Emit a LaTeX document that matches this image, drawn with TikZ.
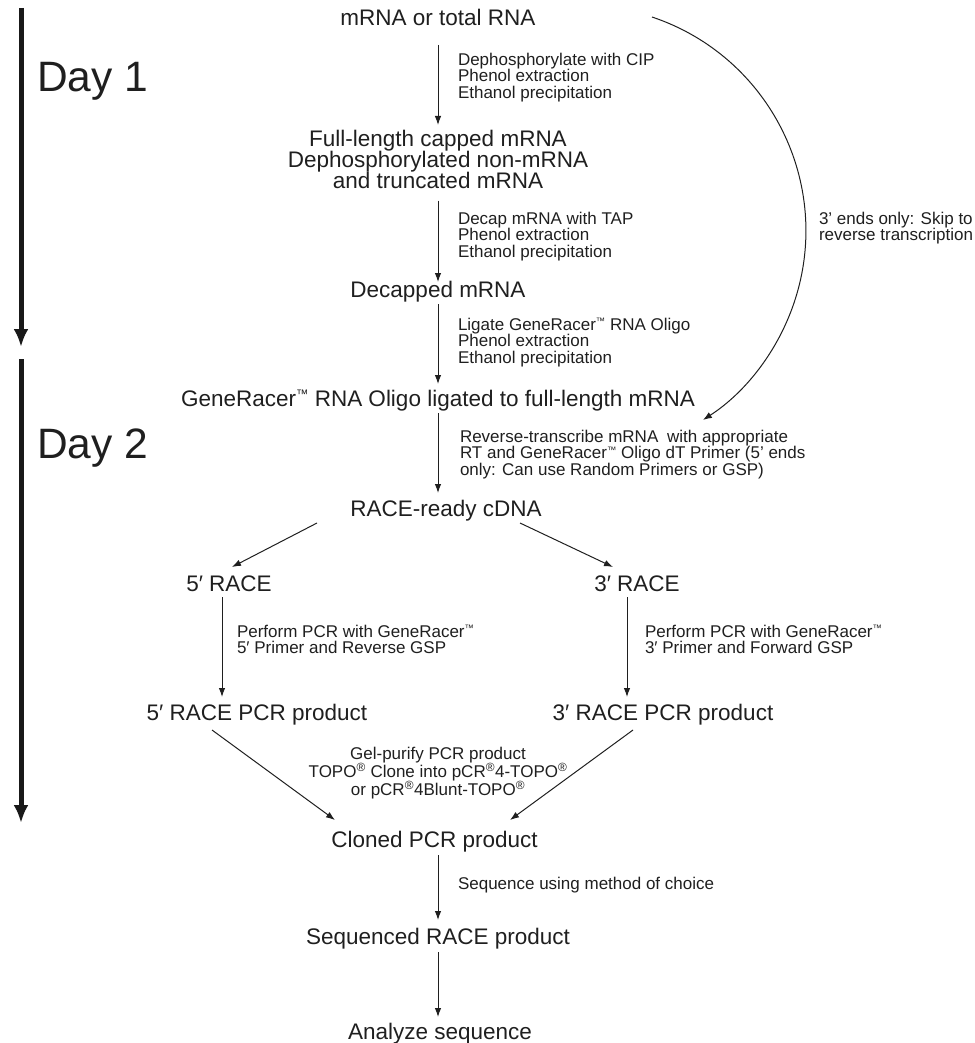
\documentclass[tikz,border=0pt]{standalone}
\usepackage{fontspec}
\setmainfont{Liberation Sans}
\usetikzlibrary{arrows.meta}
\newcommand{\tmark}{\raisebox{0.32em}{\scalebox{0.55}{™}}}
\begin{document}
\begin{tikzpicture}[x=1pt,y=-1pt,
  every node/.style={inner sep=0pt, outer sep=0pt, text=black!88},
  big/.style={font=\fontsize{22.5pt}{21pt}\selectfont, align=center},
  small/.style={font=\fontsize{17pt}{16.5pt}\selectfont, align=left},
  smallc/.style={font=\fontsize{17pt}{18.3pt}\selectfont, align=center},
  day/.style={font=\fontsize{42.5pt}{44pt}\selectfont},
  arr/.style={line width=1pt, draw=black!88, -{Latex[length=9pt,width=6.5pt]}},
  timeline/.style={line width=5pt, draw=black!90, -{Latex[length=18pt,width=15pt]}}]
\useasboundingbox (0,0) rectangle (974,1043);

% timeline
\coordinate (d1s) at (21,8);
\coordinate (d1e) at (21,347);
\coordinate (d2s) at (21,359);
\coordinate (d2e) at (21,823);
\draw[timeline] (d1s) -- (d1e);
\draw[timeline] (d2s) -- (d2e);
\node[day, anchor=base west] (day1) at (37,92) {Day 1};
\node[day, anchor=base west] (day2) at (37,458) {Day 2};

% main nodes
\node[big, anchor=base] (top) at (438,26) {mRNA or total RNA};
\node[big, anchor=north] (full) at (438,130) {Full-length capped mRNA\\Dephosphorylated non-mRNA\\and truncated mRNA};
\node[big, anchor=base] (dec) at (438,297) {Decapped mRNA};
\node[big, anchor=base] (lig) at (438,406) {GeneRacer\tmark\ RNA Oligo ligated to full-length mRNA};
\node[big, anchor=base] (cdna) at (446,516) {RACE-ready cDNA};
\node[big, anchor=base] (r5) at (229,591) {5′ RACE};
\node[big, anchor=base] (r3) at (637,591) {3′ RACE};
\node[big, anchor=base] (p5) at (257,720) {5′ RACE PCR product};
\node[big, anchor=base] (p3) at (663,720) {3′ RACE PCR product};
\node[big, anchor=base] (clo) at (434.5,847) {Cloned PCR product};
\node[big, anchor=base] (seq) at (438,944) {Sequenced RACE product};
\node[big, anchor=base] (ana) at (440,1039) {Analyze sequence};

% step labels
\node[small, anchor=north west] (l1) at (458,52.8) {Dephosphorylate with CIP\\Phenol extraction\\Ethanol precipitation};
\node[small, anchor=north west] (l2) at (458,211.8) {Decap mRNA with TAP\\Phenol extraction\\Ethanol precipitation};
\node[small, anchor=north west] (l3) at (458,317.8) {Ligate GeneRacer\tmark\ RNA Oligo\\Phenol extraction\\Ethanol precipitation};
\node[small, anchor=north west] (l4) at (460,429.8) {Reverse-transcribe mRNA\hspace{4pt} with appropriate\\RT and GeneRacer\tmark\ Oligo dT Primer (5' ends\\only: Can use Random Primers or GSP)};
\node[small, anchor=north west] (lskip) at (819,211.8) {3' ends only: Skip to\\reverse transcription};
\node[small, anchor=north west] (l5) at (237,624.8) {Perform PCR with GeneRacer\tmark\\5′ Primer and Reverse GSP};
\node[small, anchor=north west] (l6) at (645,624.8) {Perform PCR with GeneRacer\tmark\\3′ Primer and Forward GSP};
\node[smallc, anchor=north] (l7) at (438,746.8) {Gel-purify PCR product\\TOPO\textsuperscript{®} Clone into pCR\textsuperscript{®}4-TOPO\textsuperscript{®}\\or pCR\textsuperscript{®}4Blunt-TOPO\textsuperscript{®}};
\node[small, anchor=north west] (l8) at (458,876.8) {Sequence using method of choice};

% connectors
\draw[arr] ([yshift=-19pt]top.base) -- ([yshift=5pt]full.north);
\draw[arr] ([yshift=-12pt]full.south) -- ([yshift=15pt]dec.base);
\draw[arr] ([yshift=-7pt]dec.base) -- ([yshift=22pt]lig.base);
\draw[arr] ([yshift=-7pt]lig.base) -- ([xshift=-8pt,yshift=23pt]cdna.base);
\draw[arr] ([xshift=-129pt,yshift=-7pt]cdna.base) -- ([xshift=3pt,yshift=24pt]r5.base);
\draw[arr] ([xshift=74pt,yshift=-7pt]cdna.base) -- ([xshift=-24pt,yshift=24pt]r3.base);
\draw[arr] ([xshift=-7pt,yshift=-6pt]r5.base) -- ([xshift=-35pt,yshift=23pt]p5.base);
\draw[arr] ([xshift=-10pt,yshift=-6pt]r3.base) -- ([xshift=-36pt,yshift=23pt]p3.base);
\draw[arr] ([xshift=-45pt,yshift=-10pt]p5.base) -- ([xshift=-99.5pt,yshift=27pt]clo.base);
\draw[arr] ([xshift=-30pt,yshift=-10pt]p3.base) -- ([xshift=75.5pt,yshift=27pt]clo.base);
\draw[arr] ([xshift=3.5pt,yshift=-8pt]clo.base) -- ([yshift=24pt]seq.base);
\draw[arr] ([yshift=-8pt]seq.base) -- ([xshift=-2pt,yshift=22pt]ana.base);

% skip curve
\coordinate (skipA) at (652,17);
\draw[arr] (skipA) arc[start angle=-71.5, end angle=57.1, radius=225.4];
\end{tikzpicture}
\end{document}
